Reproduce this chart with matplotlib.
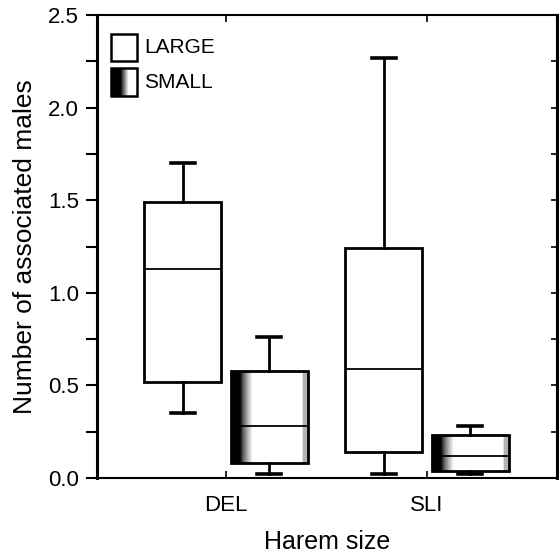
import numpy as np
import matplotlib.pyplot as plt
from matplotlib.patches import Rectangle

plt.rcParams['font.family'] = ['Liberation Sans', 'DejaVu Sans']

gruppen = ['DEL', 'SLI']
serien = ['LARGE', 'SMALL']

# Box-Statistik je Gruppe: unteres Whisker, Q1, Median, Q3, oberes Whisker
large_lo = [0.35, 0.02]
large_q1 = [0.52, 0.14]
large_med = [1.13, 0.59]
large_q3 = [1.49, 1.24]
large_hi = [1.70, 2.27]

small_lo = [0.02, 0.02]
small_q1 = [0.08, 0.04]
small_med = [0.28, 0.12]
small_q3 = [0.58, 0.23]
small_hi = [0.76, 0.28]


def stats(lo, q1, med, q3, hi):
    return [dict(whislo=a, q1=b, med=c, q3=d, whishi=e, fliers=[])
            for a, b, c, d, e in zip(lo, q1, med, q3, hi)]


fig = plt.figure(figsize=(5.59, 5.56), dpi=100)
ax = fig.add_axes([0.1735, 0.1403, 0.8229, 0.8327])

pos = np.arange(1, len(gruppen) + 1)
off = 0.216
breite = 0.383

stil = dict(widths=breite, capwidths=0.12, patch_artist=True, showfliers=False,
            boxprops=dict(linewidth=2.0, edgecolor='black'),
            whiskerprops=dict(linewidth=2.0, color='black'),
            capprops=dict(linewidth=2.6, color='black'),
            medianprops=dict(linewidth=1.3, color='black'))

bp1 = ax.bxp(stats(large_lo, large_q1, large_med, large_q3, large_hi),
             positions=pos - off, **stil)
bp2 = ax.bxp(stats(small_lo, small_q1, small_med, small_q3, small_hi),
             positions=pos + off, **stil)
for b in bp1['boxes']:
    b.set_facecolor('white')
for b in bp2['boxes']:
    b.set_facecolor('none')

# Verlauf (Raster) fuer die SMALL-Boxen
xs = np.linspace(0, 1, 200)
grad = np.clip((xs - 0.12) / 0.16, 0, 1) ** 0.7
grad[xs > 0.93] = 0.7
grad = grad[np.newaxis, :]

for i, b in enumerate(bp2['boxes']):
    x0 = pos[i] + off - breite / 2
    x1 = pos[i] + off + breite / 2
    im = ax.imshow(grad, cmap='gray', vmin=0, vmax=1, aspect='auto',
                   extent=[x0, x1, small_q1[i], small_q3[i]], zorder=1.5)
    im.set_clip_path(b)

ax.set_xlim(0.358, 2.647)
ax.set_ylim(0, 2.5)
ax.set_xticks(pos)
ax.set_xticklabels(gruppen, fontsize=16)
ax.set_yticks(np.arange(0, 2.51, 0.5))
ax.set_yticks(np.arange(0.25, 2.5, 0.5), minor=True)
ax.set_yticklabels([f'{v:.1f}' for v in np.arange(0, 2.51, 0.5)], fontsize=16)
ax.tick_params(axis='y', which='both', direction='out', length=8, width=1.5, pad=5)
ax.tick_params(axis='x', direction='in', length=5, width=1.2, top=True, pad=12)
ax2 = ax.secondary_yaxis('right')
ax2.set_yticks(np.arange(0, 2.51, 0.25))
ax2.tick_params(direction='in', length=4, width=1.2, labelright=False)
for s in ax.spines.values():
    s.set_linewidth(1.5)
ax.spines['left'].set_linewidth(2.2)
ax2.spines['right'].set_linewidth(2.2)

ax.set_ylabel('Number of associated males', fontsize=19, labelpad=8)
ax.set_xlabel('Harem size', fontsize=18, labelpad=10)

# Legende von Hand
for j, name in enumerate(serien):
    y0 = 0.9 - j * 0.075
    r = Rectangle((0.03, y0), 0.058, 0.06, transform=ax.transAxes,
                  facecolor='white' if j == 0 else 'none', edgecolor='black',
                  linewidth=1.8, zorder=5)
    ax.add_patch(r)
    if j == 1:
        lg = np.clip((xs - 0.35) / 0.3, 0, 1)[np.newaxis, :]
        im = ax.imshow(lg, cmap='gray', vmin=0, vmax=1, aspect='auto',
                       extent=[0.03, 0.088, y0, y0 + 0.06],
                       transform=ax.transAxes, zorder=4)
    ax.text(0.103, y0 + 0.029, name, transform=ax.transAxes, fontsize=15,
            va='center', ha='left')

ax.set_xlim(0.358, 2.647)
ax.set_ylim(0, 2.5)

fig.savefig('out.png', dpi=100)
